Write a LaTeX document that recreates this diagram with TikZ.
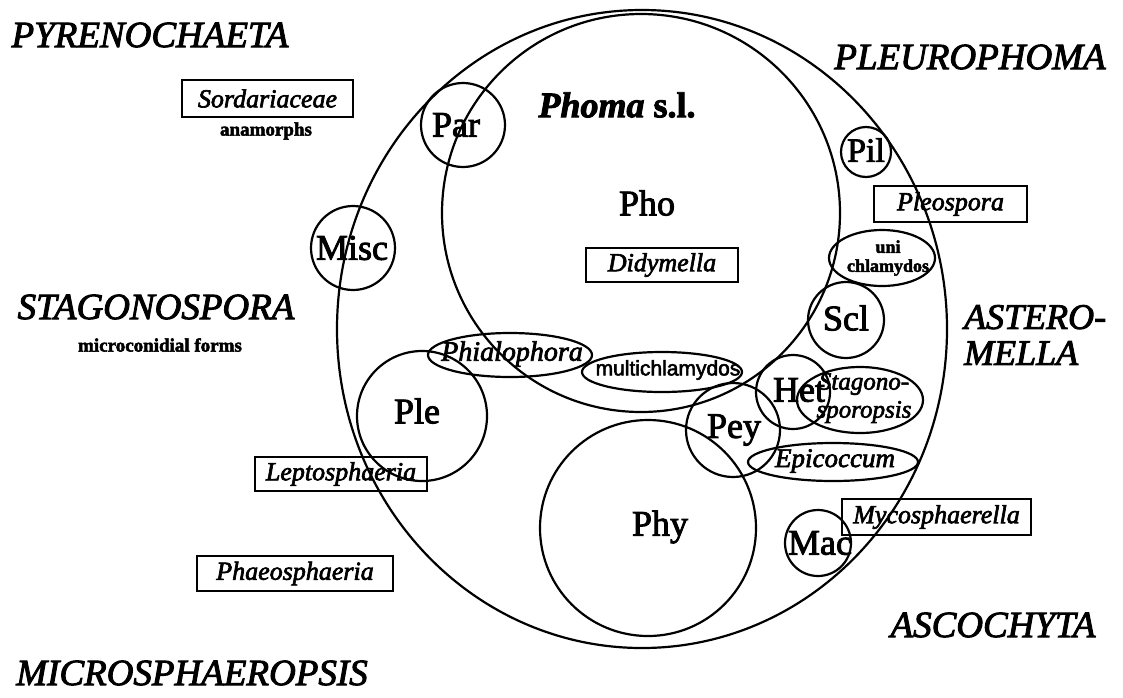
\documentclass[tikz,border=0pt]{standalone}
\usepackage{fontspec}
\setmainfont{Liberation Serif}[FakeBold=2.5]
\newfontfamily\sansf{Liberation Sans}[FakeBold=2.5]
\usetikzlibrary{shapes.geometric}
\begin{document}
\begin{tikzpicture}[x=1pt,y=-1pt, line width=2.2pt,
 circ/.style={draw, circle, inner sep=0pt},
 ell/.style={draw, ellipse, inner sep=0pt},
 box/.style={draw, rectangle, inner sep=0pt, font=\fontsize{26}{28}\selectfont\itshape},
 lab/.style={font=\fontsize{36}{38}\selectfont, inner sep=0pt},
 genus/.style={font=\fontsize{37}{40}\selectfont\itshape, inner sep=0pt},
 small/.style={font=\fontsize{19}{20}\selectfont\bfseries, inner sep=0pt},
 itl/.style={font=\fontsize{27}{28}\selectfont\itshape, inner sep=0pt},
]
\useasboundingbox (0,0) rectangle (1123,697);
% big outlines
\node[ell, minimum width=610pt, minimum height=638pt] (outer) at (642,329) {};
\node[circ, minimum size=398pt] (pho) at (641,213) {};
\node[font=\fontsize{36}{38}\selectfont\bfseries, inner sep=0pt] (phomasl) at (617,105) {\itshape Phoma\upshape{} s.l.};
\node[lab] (pholab) at (647,203) {Pho};
% circles
\node[circ, minimum size=84pt] (par) at (463,125) {};
\node[lab] (parlab) at (456,125) {Par};
\node[circ, minimum size=84pt] (misc) at (353,248) {};
\node[lab] (misclab) at (352,248) {Misc};
\node[circ, minimum size=50pt] (pil) at (866,152) {};
\node[lab, font=\fontsize{34}{36}\selectfont] (pillab) at (866,150) {Pil};
\node[circ, minimum size=76pt] (scl) at (846,320) {};
\node[lab] (scllab) at (846,318) {Scl};
\node[circ, minimum size=130pt] (ple) at (422,416) {};
\node[lab] (plelab) at (417,411) {Ple};
\node[circ, minimum size=216pt] (phy) at (648,528) {};
\node[lab] (phylab) at (660,527) {Phy};
\node[circ, minimum size=94pt] (pey) at (733,430) {};
\node[lab] (peylab) at (734,430) {Pey};
\node[circ, minimum size=74pt] (het) at (793,392) {};
\node[lab] (hetlab) at (799,390) {Het};
\node[circ, minimum size=66pt] (mac) at (818,543) {};
\node[lab] (maclab) at (820,543) {Mac};
% ellipses
\node[ell, minimum width=106pt, minimum height=56pt] (uni) at (882,258) {};
\node[small, align=center, font=\fontsize{18}{19}\selectfont\bfseries] (unilab) at (888,258) {uni\\chlamydos};
\node[ell, minimum width=164pt, minimum height=44pt] (phial) at (510,355) {};
\node[itl, font=\fontsize{28}{30}\selectfont\itshape] (phiallab) at (512,354) {Phialophora};
\node[ell, minimum width=160pt, minimum height=40pt] (multi) at (662,372) {};
\node[inner sep=0pt, font=\fontsize{21}{22}\selectfont\sansf] (multilab) at (668,370) {multichlamydos};
\node[ell, minimum width=126pt, minimum height=66pt] (stag) at (860,400) {};
\node[itl, align=center, font=\fontsize{25}{28}\selectfont\itshape] (staglab) at (864,398) {Stagono-\\sporopsis};
\node[ell, minimum width=170pt, minimum height=38pt] (epic) at (833,462) {};
\node[itl] (epiclab) at (835,461) {Epicoccum};
% boxes
\node[box, minimum width=171pt, minimum height=37pt] (sord) at (267.5,98.5) {Sordariaceae};
\node[small] (anam) at (266,131) {anamorphs};
\node[box, minimum width=153pt, minimum height=36pt] (pleo) at (950.5,204) {Pleospora};
\node[box, minimum width=152pt, minimum height=34pt] (didy) at (662,265) {Didymella};
\node[box, minimum width=172pt, minimum height=34pt] (lepto) at (341,474) {Leptosphaeria};
\node[box, minimum width=196pt, minimum height=35pt] (phaeo) at (295,573.5) {Phaeosphaeria};
\node[box, minimum width=189pt, minimum height=36pt] (myco) at (936.5,517) {Mycosphaerella};
% genus names
\node[genus] (pyre) at (150,35) {PYRENOCHAETA};
\node[genus] (pleuro) at (970,57) {PLEUROPHOMA};
\node[genus] (stago) at (156,307) {STAGONOSPORA};
\node[small] (micro) at (160,345) {microconidial forms};
\node[genus, align=left, anchor=west, font=\fontsize{36}{36}\selectfont\itshape] (astero) at (963,335) {ASTERO-\\MELLA};
\node[genus] (asco) at (993,625) {ASCOCHYTA};
\node[genus] (micros) at (192,673) {MICROSPHAEROPSIS};
\end{tikzpicture}
\end{document}
